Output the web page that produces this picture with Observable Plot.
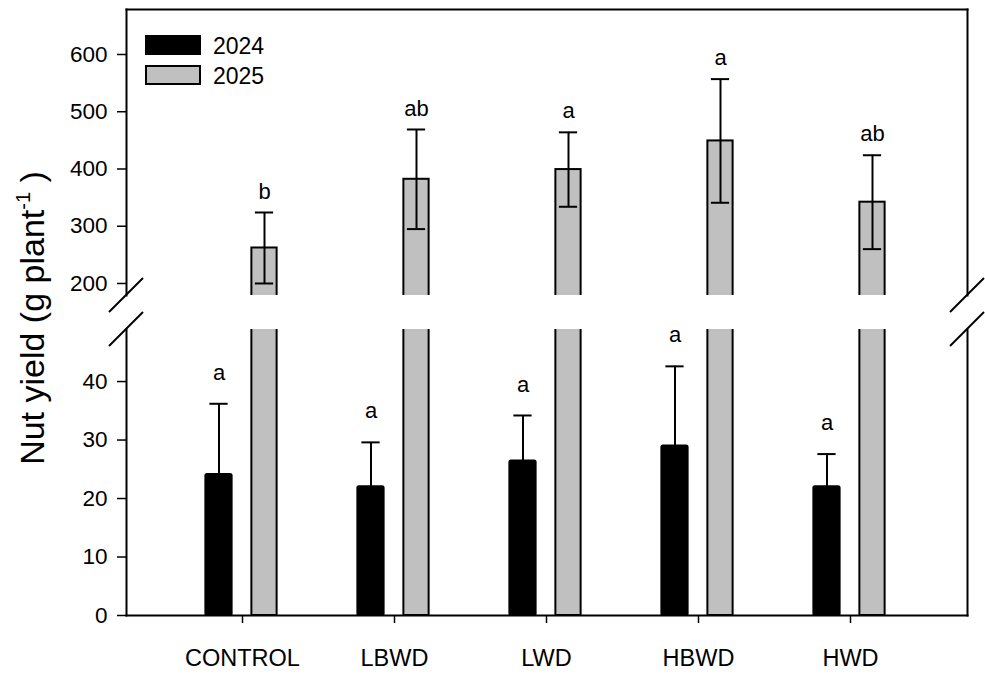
<!DOCTYPE html>
<html><head><meta charset="utf-8">
<script src="https://cdn.jsdelivr.net/npm/d3@7"></script>
<script src="https://cdn.jsdelivr.net/npm/@observablehq/plot@0.6"></script>
<style>
body{margin:0;background:#fff;}
#chart{position:relative;width:985px;height:676px;}
#chart svg{position:absolute;left:0;top:0;overflow:visible;}
</style></head><body><div id="chart"></div>
<script>
// ---- data ----
const treatments = ["CONTROL", "LBWD", "LWD", "HBWD", "HWD"];
const years = ["2024", "2025"];
const yield2024 = [24.1, 22.0, 26.4, 29.0, 22.0];
const se2024 = [12.1, 7.6, 7.8, 13.6, 5.6];
const letters2024 = ["a", "a", "a", "a", "a"];
const yield2025 = [262, 382, 399, 449, 342];
const se2025 = [62, 87, 65, 108, 82];
const letters2025 = ["b", "ab", "a", "a", "ab"];
const lowerTicks = [0, 10, 20, 30, 40];
const upperTicks = [200, 300, 400, 500, 600];
const lowerDomain = [0, 48.9];
const upperDomain = [179, 678.6];
const yTitle = "Nut yield (g plant";
const yTitleSup = "-1";

const data = treatments.map((t, i) => ({
  treatment: t,
  v24: yield2024[i], se24: se2024[i], l24: letters2024[i],
  v25: yield2025[i], se25: se2025[i], l25: letters2025[i]
}));

// ---- layout ----
const W = 985, H = 676;
const frameLeft = 126, frameRight = 967;
const upperTop = 9, upperBottom = 295, lowerTop = 329, lowerBottom = 615;
const xRange = [164.6, 928.4];
const font = '"Liberation Sans", Arial, Helvetica, sans-serif';
const gray = "#c0c0c0";
const bandW = (xRange[1] - xRange[0]) / treatments.length;
const off24 = -23.5, off25 = 22;
function insets(off, w) {
  const c = bandW / 2 + off;
  return {insetLeft: c - w / 2, insetRight: bandW - (c + w / 2)};
}
const bar24 = insets(off24, 27), bar25 = insets(off25, 26);
const cap24 = insets(off24, 19), cap25 = insets(off25, 19);

const common = {
  width: W, height: H,
  marginLeft: frameLeft, marginRight: W - frameRight,
  x: {type: "band", domain: treatments, range: xRange, padding: 0, axis: null},
  style: {fontFamily: font, color: "black", background: "transparent", overflow: "visible"}
};

function legendMark(index, scales, values, dim) {
  const g = d3.create("svg:g").attr("font-family", font).attr("font-size", 23)
    .attr("text-anchor", "start");
  const fills = ["black", gray];
  years.forEach((yr, i) => {
    const y0 = 36 + i * 30;
    g.append("rect").attr("x", 146).attr("y", y0).attr("width", 54).attr("height", 18)
      .attr("fill", fills[i]).attr("stroke", "black").attr("stroke-width", 2);
    g.append("text").attr("x", 213).attr("y", y0 + 18).attr("fill", "black").text(yr);
  });
  return g.node();
}

function breakAndTitle(index, scales, values, dim) {
  const g = d3.create("svg:g");
  const s = g.append("g").attr("stroke", "black").attr("stroke-width", 2);
  for (const x of [dim.marginLeft, dim.width - dim.marginRight])
    for (const y of [upperBottom, lowerTop])
      s.append("line").attr("x1", x - 17).attr("y1", y + 17).attr("x2", x + 17).attr("y2", y - 17);
  const t = g.append("text").attr("transform", "translate(44,318) rotate(-90)")
    .attr("text-anchor", "middle").attr("font-family", font).attr("font-size", 34).attr("fill", "black");
  t.append("tspan").text(yTitle);
  t.append("tspan").attr("font-size", 20).attr("dy", -14).text(yTitleSup);
  t.append("tspan").attr("dy", 14).text(" )");
  return g.node();
}

const upper = Plot.plot({
  ...common,
  marginTop: upperTop, marginBottom: H - upperBottom,
  y: {domain: upperDomain, label: null},
  marks: [
    Plot.barY(data, {x: "treatment", y1: upperDomain[0] - 40, y2: "v25", fill: gray,
      stroke: "black", strokeWidth: 2, ...bar25, clip: true}),
    Plot.ruleX(data, {x: "treatment", y1: d => d.v25 - d.se25, y2: d => d.v25 + d.se25,
      dx: off25, stroke: "black", strokeWidth: 2}),
    Plot.tickY(data, {x: "treatment", y: d => d.v25 + d.se25, ...cap25, stroke: "black", strokeWidth: 2}),
    Plot.tickY(data, {x: "treatment", y: d => d.v25 - d.se25, ...cap25, stroke: "black", strokeWidth: 2}),
    Plot.text(data, {x: "treatment", y: d => d.v25 + d.se25, text: "l25", dx: off25, dy: -21,
      fontSize: 22, fill: "black"}),
    Plot.frame({anchor: "top", strokeWidth: 2}),
    Plot.frame({anchor: "left", strokeWidth: 2}),
    Plot.frame({anchor: "right", strokeWidth: 2}),
    Plot.axisY({ticks: upperTicks, tickSize: 9, tickPadding: 10, fontSize: 22.5, strokeWidth: 1.5, label: null}),
    legendMark
  ]
});

const lower = Plot.plot({
  ...common,
  marginTop: lowerTop, marginBottom: H - lowerBottom,
  y: {domain: lowerDomain, label: null},
  marks: [
    Plot.barY(data, {x: "treatment", y1: 0, y2: "v25", fill: gray,
      stroke: "black", strokeWidth: 2, ...bar25, clip: true}),
    Plot.ruleX(data, {x: "treatment", y1: "v24", y2: d => d.v24 + d.se24,
      dx: off24, stroke: "black", strokeWidth: 2}),
    Plot.tickY(data, {x: "treatment", y: d => d.v24 + d.se24, ...cap24, stroke: "black", strokeWidth: 2}),
    Plot.barY(data, {x: "treatment", y: "v24", fill: "black", stroke: "black", strokeWidth: 2, rx: 1.5, ...bar24}),
    Plot.text(data, {x: "treatment", y: d => d.v24 + d.se24, text: "l24", dx: off24, dy: -31,
      fontSize: 22, fill: "black"}),
    Plot.frame({anchor: "bottom", strokeWidth: 2}),
    Plot.frame({anchor: "left", strokeWidth: 2}),
    Plot.frame({anchor: "right", strokeWidth: 2}),
    Plot.axisY({ticks: lowerTicks, tickSize: 9, tickPadding: 10, fontSize: 22.5, strokeWidth: 1.5, label: null}),
    Plot.axisX({tickSize: 8, tickPadding: 26, fontSize: 23.5, strokeWidth: 1.5, label: null}),
    breakAndTitle
  ]
});

const chart = document.getElementById("chart");
chart.append(upper, lower);
</script>
</body></html>
